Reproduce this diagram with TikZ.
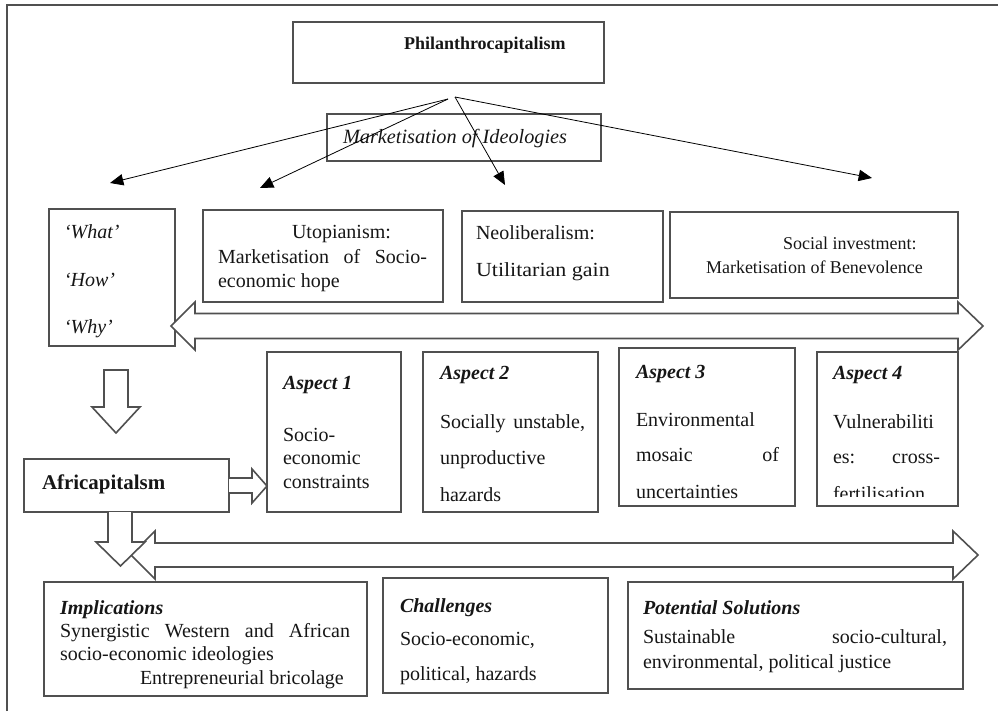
\documentclass[tikz,border=0pt]{standalone}
\usepackage{fontspec}
\setmainfont{Liberation Serif}
\usetikzlibrary{arrows.meta,fit}
\newdimen\upx \upx=0.75pt
\definecolor{edge}{HTML}{505050}
\definecolor{ink}{HTML}{161616}
\tikzset{
  box/.style={draw=edge, line width=1.3pt, inner sep=0pt, outer sep=0pt},
  pal/.style={font=\fontsize{15}{18}\selectfont, text=ink, inner sep=0pt, outer sep=0pt, anchor=base west},
  palbi/.style={pal, font=\fontsize{15}{18}\selectfont\bfseries\itshape},
  palit/.style={pal, font=\fontsize{15}{18}\selectfont\itshape},
  tms/.style={pal, font=\fontsize{13.5}{16}\selectfont},
  blk/.style={draw=edge, fill=white, line width=1.2pt, line join=miter},
  thinarrow/.style={draw=black, line width=0.6pt, -{Triangle[length=10pt,width=8.5pt]}},
}
\begin{document}
\begin{tikzpicture}[x=0.75pt,y=-0.75pt]
\useasboundingbox (0,0) rectangle (998,711);
% frame
\draw[edge, line width=1.2pt] (7,711) -- (7,5) -- (998,5);

% boxes
\node[box, fit={(293,22) (604,83)}] (phil) {};
\node[box, line width=1.8pt, fit={(327,114) (601,161)}] (mark) {};
\node[box, fit={(49,209) (175,346)}] (what) {};
\node[box, fit={(203,210) (443,302)}] (utop) {};
\node[box, fit={(462,211) (663,302)}] (neo) {};
\node[box, fit={(670,212) (958,298)}] (soc) {};
\node[box, fit={(24,459) (229,512)}] (afr) {};
\node[box, fit={(267,352) (401,512)}] (asp1) {};
\node[box, fit={(423,352) (598,512)}] (asp2) {};
\node[box, fit={(619,348) (795,506)}] (asp3) {};
\node[box, fit={(817,352) (958,506)}] (asp4) {};
\node[box, fit={(44,582) (367,696)}] (impl) {};
\node[box, fit={(383,578) (608,693)}] (chal) {};
\node[box, fit={(628,582) (963,689)}] (pot) {};

% texts
\node[tms, font=\fontsize{13.5}{16}\selectfont\bfseries] (tphil) at (404,49) {Philanthrocapitalism};
\node[pal, font=\fontsize{15.2}{18}\selectfont\itshape] (tmark) at (343,143) {Marketisation of Ideologies};

\node[palit] (tw1) at (64,238) {‘What’};
\node[palit] (tw2) at (64,286) {‘How’};
\node[palit] (tw3) at (64,333) {‘Why’};

\node[pal] (tu1) at (292,238) {Utopianism:};
\node[pal] (tu2) at (218,263) {\makebox[209\upx][s]{Marketisation of Socio-}};
\node[pal] (tu3) at (218,287) {economic hope};

\node[pal] (tn1) at (476,239) {Neoliberalism:};
\node[pal] (tn2) at (476,276) {\scalebox{1.1}[1]{Utilitarian gain}};

\node[tms] (ts1) at (783,249) {Social investment:};
\node[tms] (ts2) at (706,273) {Marketisation of Benevolence};

\node[palbi] (ta1h) at (283,389) {Aspect 1};
\node[pal] (ta1a) at (283,441) {Socio-};
\node[pal] (ta1b) at (283,464) {economic};
\node[pal] (ta1c) at (283,488) {constraints};

\node[palbi] (ta2h) at (440,379) {Aspect 2};
\node[pal] (ta2a) at (440,428) {\makebox[145\upx][s]{Socially unstable,}};
\node[pal] (ta2b) at (440,464) {unproductive};
\node[pal] (ta2c) at (440,501) {hazards};

\node[palbi] (ta3h) at (636,378) {Aspect 3};
\node[pal] (ta3a) at (636,426) {Environmental};
\node[pal] (ta3b) at (636,461) {\makebox[143\upx][s]{mosaic of}};
\node[pal] (ta3c) at (636,498) {uncertainties};

\node[palbi] (ta4h) at (833,379) {Aspect 4};
\node[pal] (ta4a) at (833,428) {Vulnerabiliti};
\node[pal] (ta4b) at (833,463) {\makebox[107\upx][s]{es: cross-}};
\begin{scope}
\clip (820,480) rectangle (955,496);
\node[pal] (ta4c) at (833,500) {fertilisation};
\end{scope}

\node[pal, font=\fontsize{15.7}{18}\selectfont\bfseries] (tafr) at (42,489) {Africapitalsm};

\node[palbi] (tih) at (60,614) {Implications};
\node[pal] (ti1) at (60,637) {\makebox[290\upx][s]{Synergistic Western and African}};
\node[pal] (ti2) at (60,660) {socio-economic ideologies};
\node[pal] (ti3) at (140,684) {Entrepreneurial bricolage};

\node[palbi] (tch) at (400,612) {Challenges};
\node[pal] (tc1) at (400,645) {Socio-economic,};
\node[pal] (tc2) at (400,680) {political, hazards};

\node[palbi] (tph) at (643,614) {Potential Solutions};
\node[pal] (tp1) at (643,643) {\makebox[304\upx][s]{Sustainable socio-cultural,}};
\node[pal] (tp2) at (643,668) {environmental, political justice};

% thin arrows
\coordinate (s1) at (448,99);
\coordinate (s2) at (455,97);
\coordinate (e1) at (110,183);
\coordinate (e2) at (260,188);
\coordinate (e3) at (505,185);
\coordinate (e4) at (872,178);
\draw[thinarrow] (s1) -- (e1);
\draw[thinarrow] (s1) -- (e2);
\draw[thinarrow] (s2) -- (e3);
\draw[thinarrow] (s2) -- (e4);

% upper double block arrow
\draw[blk] (171,326) -- (195,302) -- (195,313.5) -- (958,313.5) -- (958,302) -- (983,326)
  -- (958,350) -- (958,338.5) -- (195,338.5) -- (195,350) -- cycle;

% down arrow what -> africapitalsm
\draw[blk] (104,370) -- (128,370) -- (128,407) -- (140,407) -- (116,433) -- (92,407) -- (104,407) -- cycle;

% small right arrow africapitalsm -> aspect 1
\draw[blk] (afr.east |- 0,478) -- (252,478) -- (252,469) -- (267,486) -- (252,503) -- (252,493) -- (afr.east |- 0,493);

% bottom double block arrow
\draw[blk] (131,555) -- (155,531) -- (155,543) -- (953,543) -- (953,531) -- (978,555)
  -- (953,579) -- (953,567) -- (155,567) -- (155,579) -- cycle;

% down arrow africapitalsm -> bottom
\draw[blk] (108,512) -- (108,542) -- (96,542) -- (120.5,566) -- (145,542) -- (132,542) -- (132,512);
\end{tikzpicture}
\end{document}
